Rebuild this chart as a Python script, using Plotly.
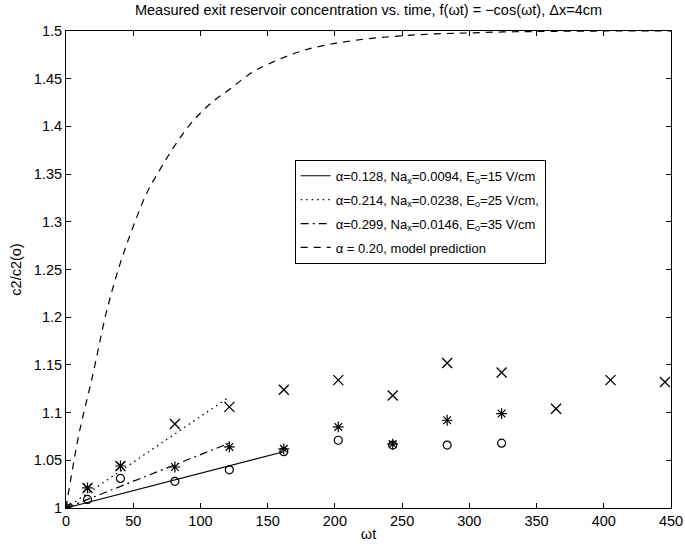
import plotly.graph_objects as go

# Measured data (omega*t, c2/c2(o))
t_o = [0, 16, 40.5, 81, 121.5, 162, 202.5, 243, 283.5, 324]
v_o = [1.0, 1.009, 1.031, 1.028, 1.040, 1.059, 1.071, 1.066, 1.066, 1.068]

t_star = [0, 16, 40.5, 81, 121.5, 162, 202.5, 243, 283.5, 324]
v_star = [1.0, 1.021, 1.044, 1.043, 1.064, 1.062, 1.085, 1.067, 1.092, 1.099]

t_x = [0, 16, 40.5, 81, 121.5, 162, 202.5, 243, 283.5, 324, 364.5, 405, 445.5]
v_x = [1.0, 1.021, 1.044, 1.088, 1.106, 1.124, 1.134, 1.118, 1.152, 1.142, 1.104, 1.134, 1.132]

# Fit lines
t_fit1 = [0, 162]
v_fit1 = [1.0, 1.059]
t_fit2 = [0, 120]
v_fit2 = [1.0, 1.115]
t_fit3 = [0, 121.5]
v_fit3 = [1.0, 1.068]

# Model prediction
t_model = [0, 5, 10, 20, 30, 40, 50, 60, 70, 80, 90, 100, 110, 120, 130, 140, 150,
           165, 180, 200, 225, 250, 275, 300, 325, 350, 400, 450]
v_model = [1.0, 1.042, 1.080, 1.140, 1.205, 1.255, 1.295, 1.330, 1.355, 1.378, 1.398,
           1.414, 1.427, 1.437, 1.448, 1.458, 1.465, 1.474, 1.481, 1.487, 1.492, 1.495,
           1.497, 1.498, 1.499, 1.4995, 1.5, 1.5]

labels = [
    "α=0.128, Na<sub>x</sub>=0.0094, E<sub>o</sub>=15 V/cm",
    "α=0.214, Na<sub>x</sub>=0.0238, E<sub>o</sub>=25 V/cm,",
    "α=0.299, Na<sub>x</sub>=0.0146, E<sub>o</sub>=35 V/cm",
    "α = 0.20, model prediction",
]

x_ticks = [0, 50, 100, 150, 200, 250, 300, 350, 400, 450]
y_ticks = [1, 1.05, 1.1, 1.15, 1.2, 1.25, 1.3, 1.35, 1.4, 1.45, 1.5]

FONT = "Liberation Sans, Arial, Helvetica, sans-serif"
fig = go.Figure()

fig.add_trace(go.Scatter(x=t_fit1, y=v_fit1, mode="lines", name=labels[0], legendgroup="a",
                         line=dict(color="black", width=1.2, dash="solid")))
fig.add_trace(go.Scatter(x=t_fit2, y=v_fit2, mode="lines", name=labels[1], legendgroup="b",
                         line=dict(color="black", width=1.3, dash="1.5px,4px")))
fig.add_trace(go.Scatter(x=t_fit3, y=v_fit3, mode="lines", name=labels[2], legendgroup="c",
                         line=dict(color="black", width=1.2, dash="8px,4px,2px,4px")))
fig.add_trace(go.Scatter(x=t_model, y=v_model, mode="lines", name=labels[3], legendgroup="d",
                         line=dict(color="black", width=1.2, dash="7px,6px"), line_shape="spline"))

fig.add_trace(go.Scatter(x=t_o, y=v_o, mode="markers", showlegend=False,
                         marker=dict(symbol="circle-open", size=8, color="black", line=dict(width=1.2))))
fig.add_trace(go.Scatter(x=t_star, y=v_star, mode="markers", showlegend=False,
                         marker=dict(symbol="asterisk-open", size=9, color="black", line=dict(width=1.2))))
fig.add_trace(go.Scatter(x=t_x, y=v_x, mode="markers", showlegend=False,
                         marker=dict(symbol="x-thin-open", size=10, color="black", line=dict(width=1.3))))

axis_common = dict(showgrid=False, zeroline=False, showline=True, linecolor="black", linewidth=1,
                   mirror="ticks", ticks="inside", ticklen=5, tickcolor="black", automargin=False,
                   ticklabeloverflow="allow",
                   tickfont=dict(family=FONT, size=14.5, color="black"))

fig.update_layout(
    width=685, height=546,
    margin=dict(l=66, r=14, t=31, b=38),
    paper_bgcolor="white", plot_bgcolor="white",
    title=dict(text="Measured exit reservoir concentration vs. time, f(ωt) = −cos(ωt), Δx=4cm",
               x=0.5, xref="paper", xanchor="center", y=0.982, yref="container", yanchor="middle",
               font=dict(family=FONT, size=14.5, color="black")),
    xaxis=dict(range=[0, 450], tickvals=x_ticks, **axis_common,
               title=dict(text="ωt", font=dict(family=FONT, size=14.5, color="black"), standoff=0)),
    yaxis=dict(range=[1, 1.5], tickvals=y_ticks, **axis_common,
               title=dict(text="c2/c2(o)", font=dict(family=FONT, size=14.5, color="black"), standoff=8)),
    legend=dict(x=0.378, y=0.730, xanchor="left", yanchor="top",
                bgcolor="white", bordercolor="black", borderwidth=1,
                font=dict(family=FONT, size=13, color="black"),
                tracegroupgap=4, itemwidth=30),
    showlegend=True,
)

fig.write_html("out.html")
